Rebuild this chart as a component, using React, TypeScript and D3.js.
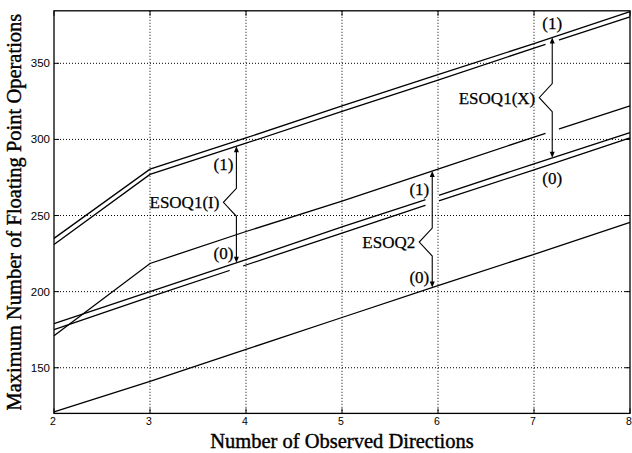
import React, { useEffect, useRef } from "react";
import * as d3 from "d3";

// number of observed directions (x values)
const directions = [2, 3, 4, 5, 6, 7, 8];
const xTicks = [2, 3, 4, 5, 6, 7, 8];
const yTicks = [150, 200, 250, 300, 350];

// max number of floating point operations
const curveA = [235, 280.5, 301, 322, 342.5, 363, 384];
const curveB = [231, 277, 297.5, 318.5, 339, 360, 380.5];
const curveC = [171, 218.5, 239.5, 259.5, 280.5, 301.5, 322];
const curveD = [179, 200, 221, 242.5, 263, 284, 304.5];
const curveE = [175, 196.5, 217.5, 238.5, 259.5, 280, 301];
const curveF = [121, 141, 162, 183, 204, 224.5, 245.5];

const curves = [curveA, curveB, curveC, curveD, curveE, curveF];

// brace annotations: label, x position, curve at the (1) end and the (0) end
const annotations = [
  { label: "ESOQ1(I)", at: 3.9, top: curveB, bottom: curveD, kink: 0.48, ends: "left", gaps: [curveE] },
  { label: "ESOQ2", at: 5.94, top: curveC, bottom: curveF, kink: 0.61, ends: "left", gaps: [curveD, curveE] },
  { label: "ESOQ1(X)", at: 7.19, top: curveA, bottom: curveD, kink: 0.5, ends: "outside", gaps: [curveB, curveC] },
];

export default function App() {
  const ref = useRef<SVGSVGElement>(null);

  useEffect(() => {
    const svg = d3.select(ref.current);
    svg.selectAll("*").remove();

    const left = 54;
    const right = 630;
    const top = 10.8;
    const bottom = 413.4;

    const x = d3.scaleLinear().domain([2, 8]).range([left, right]);
    const y = d3.scaleLinear().domain([120, 384.5]).range([bottom, top]);

    svg.append("rect").attr("width", 632).attr("height", 453).attr("fill", "#fff");

    // dotted grid
    const grid = svg.append("g").attr("stroke", "#000").attr("stroke-width", 1).attr("stroke-dasharray", "1,2");
    xTicks.slice(1, -1).forEach((t) => {
      grid.append("line").attr("x1", x(t)).attr("x2", x(t)).attr("y1", top).attr("y2", bottom);
    });
    yTicks.forEach((t) => {
      grid.append("line").attr("x1", left).attr("x2", right).attr("y1", y(t)).attr("y2", y(t));
    });

    const line = d3
      .line<number>()
      .x((_, i) => x(directions[i]))
      .y((d) => y(d));

    curves.forEach((c) => {
      svg.append("path").attr("d", line(c)).attr("fill", "none").attr("stroke", "#000").attr("stroke-width", 1.3);
    });

    // annotations with brace-like arrows
    annotations.forEach((a) => {
      const interp = (c: number[]) => d3.scaleLinear().domain(directions).range(c)(a.at);
      const ax = x(a.at);

      a.gaps.forEach((c) => {
        const f = d3.scaleLinear().domain(directions).range(c);
        svg
          .append("line")
          .attr("x1", x(a.at - 0.07))
          .attr("x2", x(a.at + 0.07))
          .attr("y1", y(f(a.at - 0.07)))
          .attr("y2", y(f(a.at + 0.07)))
          .attr("stroke", "#fff")
          .attr("stroke-width", 3);
      });

      const yTop = y(interp(a.top));
      const yBot = y(interp(a.bottom));
      const yk = yTop + (yBot - yTop) * a.kink;
      const half = 14;
      const depth = 13;

      const p = d3.path();
      p.moveTo(ax, yTop + 4);
      p.lineTo(ax, yk - half);
      p.lineTo(ax - depth, yk);
      p.lineTo(ax, yk + half);
      p.lineTo(ax, yBot - 4);
      svg.append("path").attr("d", p.toString()).attr("fill", "none").attr("stroke", "#000").attr("stroke-width", 1.1);

      svg
        .append("path")
        .attr("d", `M${ax},${yTop}L${ax - 2.5},${yTop + 6}L${ax + 2.5},${yTop + 6}Z`)
        .attr("fill", "#000");
      svg
        .append("path")
        .attr("d", `M${ax},${yBot}L${ax - 2.5},${yBot - 6}L${ax + 2.5},${yBot - 6}Z`)
        .attr("fill", "#000");

      const txt = (tx: number, ty: number, s: string, anchor: string) =>
        svg
          .append("text")
          .attr("x", tx)
          .attr("y", ty)
          .attr("dy", "0.35em")
          .attr("text-anchor", anchor)
          .attr("font-family", "'Liberation Serif', 'Times New Roman', serif")
          .attr("font-size", 17)
          .attr("fill", "#000")
          .attr("stroke", "#000")
          .attr("stroke-width", 0.25)
          .text(s);

      txt(ax - depth - 4, yk, a.label, "end");
      if (a.ends === "left") {
        txt(ax - 3, yTop + 18, "(1)", "end");
        txt(ax - 3, yBot - 10, "(0)", "end");
      } else {
        txt(ax, yTop - 14, "(1)", "middle");
        txt(ax, yBot + 20, "(0)", "middle");
      }
    });

    // frame and inward ticks
    svg
      .append("rect")
      .attr("x", left)
      .attr("y", top)
      .attr("width", right - left)
      .attr("height", bottom - top)
      .attr("fill", "none")
      .attr("stroke", "#000")
      .attr("stroke-width", 1.3);

    const ticks = svg.append("g").attr("stroke", "#000").attr("stroke-width", 1);
    xTicks.forEach((t) => {
      ticks.append("line").attr("x1", x(t)).attr("x2", x(t)).attr("y1", bottom).attr("y2", bottom - 5);
      ticks.append("line").attr("x1", x(t)).attr("x2", x(t)).attr("y1", top).attr("y2", top + 5);
    });
    yTicks.forEach((t) => {
      ticks.append("line").attr("x1", left).attr("x2", left + 5).attr("y1", y(t)).attr("y2", y(t));
      ticks.append("line").attr("x1", right).attr("x2", right - 5).attr("y1", y(t)).attr("y2", y(t));
    });

    // tick labels
    const tickFont = "'Liberation Sans', Arial, sans-serif";
    xTicks.forEach((t) => {
      svg
        .append("text")
        .attr("x", x(t) - 1)
        .attr("y", 425)
        .attr("text-anchor", "middle")
        .attr("font-family", tickFont)
        .attr("font-size", 10.5)
        .text(t);
    });
    yTicks.forEach((t) => {
      svg
        .append("text")
        .attr("x", 50)
        .attr("y", y(t))
        .attr("dy", "0.35em")
        .attr("text-anchor", "end")
        .attr("font-family", tickFont)
        .attr("font-size", 11.5)
        .text(t);
    });

    // axis titles
    const titleFont = "'Liberation Serif', 'Times New Roman', serif";
    svg
      .append("text")
      .attr("x", 342)
      .attr("y", 448)
      .attr("text-anchor", "middle")
      .attr("font-family", titleFont)
      .attr("font-size", 20.5)
      .attr("stroke", "#000")
      .attr("stroke-width", 0.4)
      .text("Number of Observed Directions");
    svg
      .append("text")
      .attr("transform", `translate(21,${(top + bottom) / 2}) rotate(-90)`)
      .attr("text-anchor", "middle")
      .attr("font-family", titleFont)
      .attr("font-size", 20.5)
      .attr("stroke", "#000")
      .attr("stroke-width", 0.4)
      .text("Maximum Number of Floating Point Operations");
  }, []);

  return (
    <svg
      ref={ref}
      width={632}
      height={453}
      style={{ position: "absolute", left: 0, top: 0, display: "block" }}
    />
  );
}
